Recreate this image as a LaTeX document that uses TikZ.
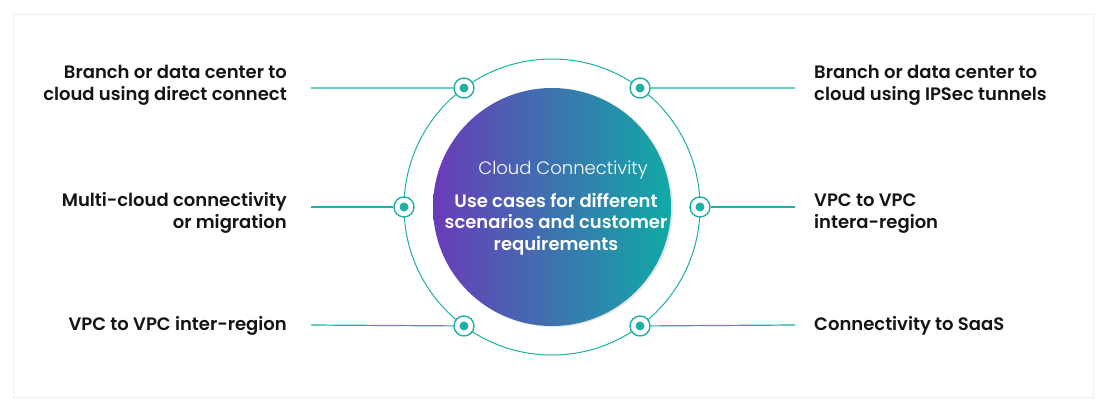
\documentclass[tikz,border=0pt]{standalone}
\usepackage{fontspec}
\setmainfont{Poppins}[BoldFont={Poppins SemiBold}]
\newfontfamily\lightfont{Poppins Light}
\definecolor{tealline}{HTML}{1DB0A7}
\definecolor{cpurple}{HTML}{6A3BB9}
\definecolor{cteal}{HTML}{10AAA5}
\definecolor{inktext}{HTML}{151515}
\begin{document}
\begin{tikzpicture}[x=1pt, y=-1pt,
    label/.style={font=\fontsize{18}{22}\selectfont\bfseries, text=inktext, inner sep=0pt},
    ring/.style={circle, draw=tealline, line width=1.4pt, fill=white, minimum size=20pt, inner sep=0pt},
    link/.style={draw=tealline, line width=1.2pt},
  ]

\def\cx{552}
\def\cy{207}
\def\rout{148}
\def\rin{119}

  % Card
  \useasboundingbox (0,0) rectangle (1105,410);
  \draw[black!7, fill=white] (13,14) rectangle (1093,397);

  % Outer ring and gradient disc
  \coordinate (c) at (\cx,\cy);
  \draw[tealline, line width=1pt] (c) circle (\rout pt);
  \fill[black!10] ([shift={(2pt,-1pt)}]c) circle (\rin pt);
  \shade[left color=cpurple, right color=cteal] (c) circle (\rin pt);

  % Centre text
  \node[font=\fontsize{18}{22}\selectfont\lightfont, text=white, anchor=base, inner sep=0pt]
    (title) at (563,174) {Cloud Connectivity};
  \node[font=\fontsize{18}{21.5}\selectfont\bfseries, text=white, anchor=base, align=center, inner sep=0pt]
    (body) at (556,250) {Use cases for different\\scenarios and customer\\requirements};

  % Markers on the ring
  \foreach \a/\n in {126.5/1, 180/2, 233.5/3, 53.5/4, 0/5, -53.5/6}{
      \node[ring] (m\n) at ([shift={(\a:\rout pt)}]c) {};
      \fill[tealline] (m\n) circle (4.5pt);
    }

  % Line ends
  \coordinate (l1) at (311,88);
  \coordinate (l2) at (311,207);
  \coordinate (l3) at (311,325);
  \coordinate (l4) at (795,88);
  \coordinate (l5) at (795,207);
  \coordinate (l6) at (795,325);

  % Connections
  \foreach \n in {1,...,6}
  \draw[link] (l\n) -- (m\n);

  % Left labels
  \node[label, anchor=base east, align=right] (t1) at (287,100) {Branch or data center to\\cloud using direct connect};
  \node[label, anchor=base east, align=right] (t2) at (287,228) {Multi-cloud connectivity\\or migration};
  \node[label, anchor=base east, align=right] (t3) at (287,330) {VPC to VPC inter-region};

  % Right labels
  \node[label, anchor=base west, align=left] (t4) at (814,100) {Branch or data center to\\cloud using IPSec tunnels};
  \node[label, anchor=base west, align=left] (t5) at (814,228) {VPC to VPC\\intera-region};
  \node[label, anchor=base west, align=left] (t6) at (814,330) {Connectivity to SaaS};

\end{tikzpicture}
\end{document}
